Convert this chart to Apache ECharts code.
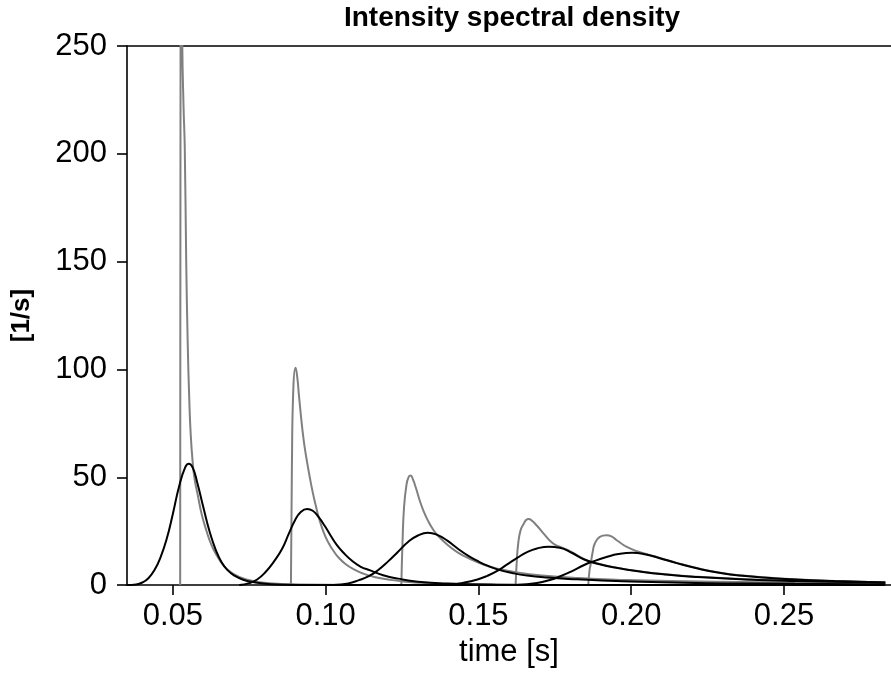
<!DOCTYPE html>
<html>
<head>
<meta charset="utf-8">
<script src="https://cdn.jsdelivr.net/npm/echarts@6/dist/echarts.min.js"></script>
<style>
html,body{margin:0;padding:0;background:#fff;}
#chart{width:891px;height:673px;}
</style>
</head>
<body>
<div id="chart"></div>
<script>
// ---- data ([time s, value 1/s]) ----
const xTickValues = [0.05, 0.10, 0.15, 0.20, 0.25];

// gray (sharp) curves
const gray1 = [[0.0524,0],[0.05245,120],[0.0526,380],[0.0528,330],[0.0531,250],[0.0535,222],[0.0539,203],[0.05438,150],[0.05487,112],[0.05536,87],[0.05584,70],[0.05649,57],[0.05714,49],[0.05812,42],[0.05942,33],[0.06104,25],[0.06266,18.5],[0.06429,14],[0.06656,9.2],[0.06916,5.8],[0.07403,2.6],[0.08149,0.9],[0.09123,0.3],[0.11,0.1],[0.2831,0]];
const gray2 = [[0.08864,0],[0.08896,55],[0.08945,92],[0.09016,100.8],[0.09075,96],[0.09123,88.6],[0.09188,79],[0.09253,70.5],[0.09318,63.5],[0.09393,57],[0.09481,50],[0.09578,43],[0.09675,37],[0.09773,31.5],[0.09935,24.5],[0.10097,19.5],[0.10260,15.8],[0.10422,12.8],[0.10649,9.8],[0.10909,7.4],[0.11234,5.3],[0.11558,3.9],[0.12045,2.6],[0.12532,1.7],[0.13344,0.9],[0.14318,0.45],[0.15617,0.2],[0.18864,0.05],[0.2831,0]];
const gray3 = [[0.12477,0],[0.12516,20],[0.12565,36],[0.12640,46],[0.12711,50],[0.12782,50.8],[0.12857,49],[0.12955,45],[0.13084,39],[0.13214,34],[0.13344,30],[0.13506,26],[0.13669,23],[0.13994,18.6],[0.14318,15.2],[0.14708,12.2],[0.15185,9.4],[0.15617,7.6],[0.16266,5.9],[0.17078,4.5],[0.18214,3.3],[0.19513,2.5],[0.22760,1.5],[0.28312,0.7]];
const gray4 = [[0.16217,0],[0.16250,10],[0.16299,19],[0.16380,25.5],[0.16484,28.5],[0.16558,30.2],[0.16646,30.7],[0.16753,29.8],[0.16916,27.5],[0.17133,23.9],[0.17338,20.6],[0.17500,18.8],[0.17662,17.8],[0.18052,15.3],[0.18442,12.2],[0.18864,10.1],[0.19513,8.1],[0.20325,6.3],[0.21136,5.0],[0.22110,3.9],[0.23734,2.7],[0.25357,2.0],[0.28312,1.2]];
const gray5 = [[0.18594,0],[0.18636,7],[0.18669,9.4],[0.18734,15],[0.18808,19.3],[0.18971,22.4],[0.19188,23.1],[0.19351,22.6],[0.19513,20.9],[0.19675,19.3],[0.19838,17.8],[0.20162,15.8],[0.20487,14.4],[0.20909,12.7],[0.21461,10.4],[0.22110,8.0],[0.22922,5.7],[0.23734,4.3],[0.24545,3.4],[0.25357,2.7],[0.26656,1.9],[0.28312,1.2]];

// black (broad) curves
const black1 = [[0.035,0],[0.038,0.3],[0.040,1.2],[0.042,3.2],[0.044,7.0],[0.046,13.0],[0.048,21.5],[0.050,33.0],[0.052,45.5],[0.054,54.5],[0.0552,56.3],[0.0565,54.5],[0.058,47.5],[0.060,36.0],[0.062,25.0],[0.064,16.5],[0.066,10.5],[0.068,6.8],[0.070,4.5],[0.073,2.5],[0.077,1.2],[0.082,0.4],[0.09,0.05],[0.2831,0]];
const black2 = [[0.07175,0],[0.07500,0.9],[0.07760,2.6],[0.08042,6.2],[0.08312,11],[0.08581,17],[0.08799,24],[0.08994,30],[0.09179,33.8],[0.09393,35.3],[0.09578,34.5],[0.09773,31.5],[0.09968,27.5],[0.10162,23],[0.10357,18.8],[0.10584,15],[0.10844,11.5],[0.11136,8.6],[0.11461,6.8],[0.11883,4.6],[0.12370,3.0],[0.13019,1.6],[0.13994,0.7],[0.15617,0.2],[0.18864,0],[0.2831,0]];
const black3 = [[0.10260,0],[0.10747,0.8],[0.11071,2.2],[0.11396,4.0],[0.11721,7.0],[0.12045,11.0],[0.12370,15.5],[0.12695,20.0],[0.13019,23.0],[0.13344,24.3],[0.13669,23.2],[0.13994,20.5],[0.14318,17.0],[0.14643,13.8],[0.14968,11.2],[0.15292,9.0],[0.15617,7.3],[0.16104,5.6],[0.16591,4.4],[0.17240,3.5],[0.18214,2.7],[0.19513,1.9],[0.22110,1.0],[0.25357,0.6],[0.28312,0.3]];
const black4 = [[0.13994,0],[0.14481,1.0],[0.14968,2.6],[0.15292,4.3],[0.15617,6.6],[0.15942,9.6],[0.16266,12.6],[0.16591,15.3],[0.16916,17.0],[0.17305,17.8],[0.17662,17.3],[0.18052,15.0],[0.18442,12.0],[0.18864,10.0],[0.19513,8.0],[0.20325,6.2],[0.21136,4.9],[0.22110,3.8],[0.23734,2.6],[0.25357,1.9],[0.28312,1.1]];
const black5 = [[0.16266,0],[0.16916,1.0],[0.17338,2.4],[0.17662,4.0],[0.18052,6.4],[0.18442,9.2],[0.18799,11.2],[0.19188,13.0],[0.19578,14.4],[0.20032,15.0],[0.20487,14.2],[0.20909,12.6],[0.21461,10.3],[0.22110,7.9],[0.22922,5.6],[0.23734,4.2],[0.24545,3.3],[0.25357,2.6],[0.26656,1.9],[0.28312,1.2]];

const grays = [gray1, gray2, gray3, gray4, gray5];
const blacks = [black1, black2, black3, black4, black5];

const FONT = "'Liberation Sans', Arial, Helvetica, sans-serif";
const chart = echarts.init(document.getElementById('chart'), null, {renderer: 'canvas'});

function lineSeries(data, color) {
  return {
    type: 'line', data: data, showSymbol: false, symbol: 'none',
    smooth: 0.5, clip: true, silent: true,
    lineStyle: {color: color, width: 2}, animation: false
  };
}
const series = [];
grays.forEach(g => series.push(lineSeries(g, '#808080')));
blacks.forEach(b => series.push(lineSeries(b, '#000000')));

chart.setOption({
  animation: false,
  backgroundColor: '#ffffff',
  title: {
    text: 'Intensity spectral density', left: 512, top: 4, textAlign: 'center', padding: 0,
    textStyle: {fontFamily: FONT, fontWeight: 'bold', fontSize: 28, color: '#000'}
  },
  grid: {left: 127, top: 46, width: 770, height: 548, containLabel: false},
  xAxis: [{
    type: 'value', min: 0.035, max: 0.285, position: 'bottom',
    name: 'time [s]', nameLocation: 'middle', nameGap: 50,
    nameTextStyle: {fontFamily: FONT, fontSize: 31, color: '#000'},
    axisLine: {show: true, onZero: false, lineStyle: {color: '#000', width: 1.6}},
    axisTick: {show: true, inside: false, length: 10, customValues: xTickValues, lineStyle: {color: '#000', width: 1.6}},
    axisLabel: {customValues: xTickValues, margin: 16, fontFamily: FONT, fontSize: 31, color: '#000',
      formatter: v => v.toFixed(2)},
    splitLine: {show: false}
  }, {
    type: 'value', min: 0.035, max: 0.285, position: 'top',
    axisLine: {show: true, onZero: false, lineStyle: {color: '#000', width: 1.6}},
    axisTick: {show: false}, axisLabel: {show: false}, splitLine: {show: false}
  }],
  yAxis: {
    type: 'value', min: 0, max: 250, interval: 50,
    name: '[1/s]', nameLocation: 'middle', nameGap: 92, nameRotate: 90,
    nameTextStyle: {fontFamily: FONT, fontSize: 26, fontWeight: 'bold', color: '#000'},
    axisLine: {show: true, lineStyle: {color: '#000', width: 1.6}},
    axisTick: {show: true, inside: false, length: 10, lineStyle: {color: '#000', width: 1.6}},
    axisLabel: {margin: 20, fontFamily: FONT, fontSize: 31, color: '#000'},
    splitLine: {show: false}
  },
  series: series
});
</script>
</body>
</html>
